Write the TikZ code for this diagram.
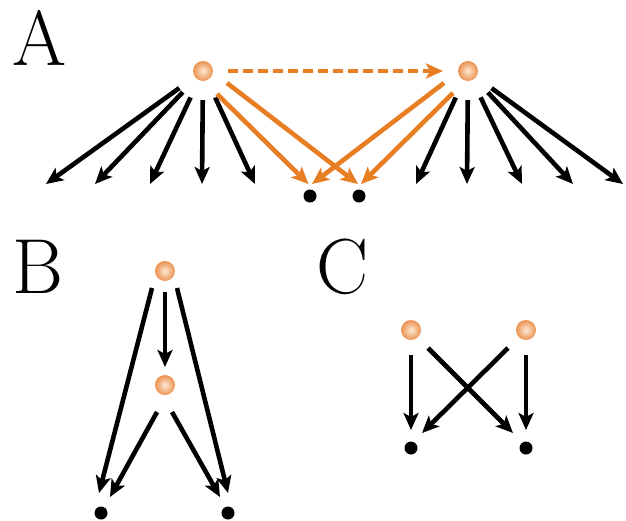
\documentclass[tikz,border=0pt]{standalone}
\usetikzlibrary{arrows.meta,calc}

\definecolor{nodeedge}{RGB}{236,146,80}
\definecolor{nodecore}{RGB}{253,232,212}
\definecolor{linkorange}{RGB}{231,126,36}

\tikzset{
  unit/.style={circle, minimum size=20pt, inner sep=0pt,
    shading=radial, inner color=nodecore, outer color=nodeedge},
  sink/.style={circle, fill=black, minimum size=13pt, inner sep=0pt},
  panel/.style={anchor=base west, inner sep=0pt,
    font=\rmfamily\fontsize{78}{78}\selectfont},
  arr/.style={line width=4.6pt, draw=black,
    -{Stealth[length=17pt,width=15pt,inset=4pt]}},
  oarr/.style={arr, draw=linkorange, fill=linkorange},
  fanA/.style={arr, shorten <=19pt},
}

\begin{document}
\begin{tikzpicture}[x=1pt, y=-1pt]
  \useasboundingbox (0,0) rectangle (626,520);

  % ---------- panel A ----------
  \node[panel] (labA) at (12,65) {A};
  \node[unit] (a1) at (203,71) {};
  \node[unit] (a2) at (468,71) {};
  \node[sink] (s1) at (310,196) {};
  \node[sink] (s2) at (359,196) {};

  % free ends of the two fans
  \foreach \i/\x in {1/46, 2/95, 3/150, 4/202, 5/255}
    \coordinate (l\i) at (\x,184);
  \foreach \i/\x in {1/416, 2/467, 3/522, 4/573, 5/623}
    \coordinate (r\i) at (\x,184);

  \foreach \i in {1,...,5} {
    \draw[fanA] (a1) -- (l\i);
    \draw[fanA] (a2) -- (r\i);
  }

  % shared targets
  \draw[oarr] ($(a1)+(14,23)$) -- ($(s1)+(-1.5,-12)$);
  \draw[oarr] ($(a1)+(24,12)$) -- ($(s2)+(-1,-12)$);
  \draw[oarr] ($(a2)+(-24,12)$) -- ($(s1)+(2,-12)$);
  \draw[oarr] ($(a2)+(-15,22)$) -- ($(s2)+(2,-12)$);

  % dashed link between the two units
  \draw[oarr, dash pattern=on 10pt off 5pt]
    ($(a1)+(25,0)$) -- ($(a2)+(-25,0)$);

  % ---------- panel B ----------
  \node[panel] (labB) at (12,293) {B};
  \node[unit] (bt) at (165,271) {};
  \node[unit] (bm) at (165,385) {};
  \node[sink] (bl) at (101,513) {};
  \node[sink] (br) at (228,513) {};

  \draw[arr] ($(bt)+(0,21)$) -- ($(bm)+(0,-18)$);
  \draw[arr] ($(bt)+(-13,17)$) -- ($(bl)+(-2,-20)$);
  \draw[arr] ($(bt)+(12,17)$) -- ($(br)+(0,-20)$);
  \draw[arr] ($(bm)+(-8,27)$) -- ($(bl)+(9,-16)$);
  \draw[arr] ($(bm)+(7,27)$) -- ($(br)+(-8,-16)$);

  % ---------- panel C ----------
  \node[panel] (labC) at (316,293) {C};
  \node[unit] (cl) at (411,330) {};
  \node[unit] (cr) at (526,330) {};
  \node[sink] (dl) at (411,448) {};
  \node[sink] (dr) at (526,448) {};

  \draw[arr] ($(cl)+(0,25)$) -- ($(dl)+(0,-18)$);
  \draw[arr] ($(cr)+(0,25)$) -- ($(dr)+(0,-18)$);
  \draw[arr] ($(cl)+(17,18)$) -- ($(dr)+(-13,-15)$);
  \draw[arr] ($(cr)+(-18,18)$) -- ($(dl)+(11,-15)$);
\end{tikzpicture}
\end{document}
